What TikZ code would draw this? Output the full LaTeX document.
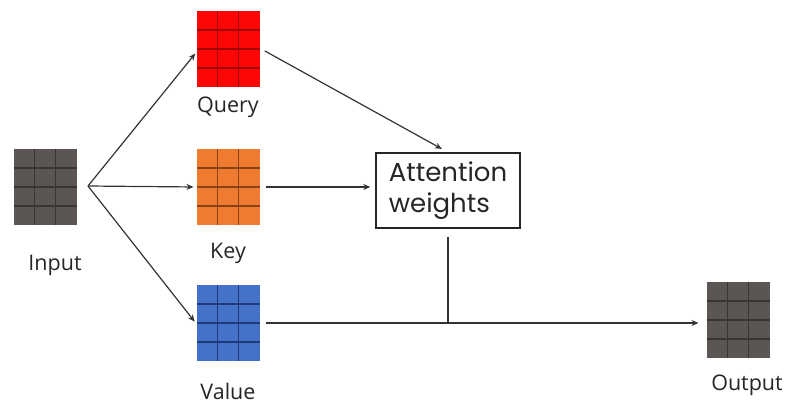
\documentclass[tikz,border=0pt]{standalone}
\usepackage{fontspec}
\setmainfont{Open Sans}
\newfontfamily\attfont{Poppins}
\usetikzlibrary{arrows.meta,calc}
\tikzset{
  x=1pt,y=-1pt,
  mat/.style={minimum width=63pt,minimum height=76pt,inner sep=0pt,outer sep=0pt,draw=none},
  gl/.style={line width=1.1pt,draw=#1},
  lbl/.style={font=\fontsize{21.5}{24}\selectfont,text=black!85,inner sep=0pt},
  conn/.style={draw=black!80,line width=1.2pt},
  arr/.style={conn,-{Stealth[length=7pt,width=6pt]}},
}
\newcommand{\matgrid}[2]{%
  \foreach \i in {1,2} \draw[gl=#2] ($(#1.north west)!\i/3!(#1.north east)$) -- ($(#1.south west)!\i/3!(#1.south east)$);
  \foreach \j in {1,2,3} \draw[gl=#2] ($(#1.north west)!\j/4!(#1.south west)$) -- ($(#1.north east)!\j/4!(#1.south east)$);
}
\definecolor{graym}{HTML}{5B5654}
\definecolor{graygl}{HTML}{3A3533}
\definecolor{redm}{HTML}{FF0606}
\definecolor{redgl}{HTML}{A00000}
\definecolor{orgm}{HTML}{EE7B30}
\definecolor{orggl}{HTML}{8A4214}
\definecolor{bluem}{HTML}{4472C8}
\definecolor{bluegl}{HTML}{1F3A78}
\begin{document}
\begin{tikzpicture}
\useasboundingbox (0,0) rectangle (789,408);
\node[mat,fill=graym] (I) at (45,187) {};
\node[mat,fill=redm] (Q) at (228,49) {};
\node[mat,fill=orgm] (K) at (228,187) {};
\node[mat,fill=bluem] (V) at (228,323) {};
\node[mat,fill=graym] (O) at (738,320) {};
\matgrid{I}{graygl}
\matgrid{Q}{redgl}
\matgrid{K}{orggl}
\matgrid{V}{bluegl}
\matgrid{O}{graygl}
\node[lbl] (Il) at (55,265) {Input};
\node[lbl] (Ql) at (228,107) {Query};
\node[lbl] (Kl) at (228,253) {Key};
\node[lbl] (Vl) at (228,391) {Value};
\node[lbl] (Ol) at (747,385) {Output};
\node[draw=black!85,line width=1.4pt,minimum width=144pt,minimum height=75pt,inner sep=0pt,
  align=left,font=\attfont\fontsize{26}{31}\selectfont,text=black!85] (A) at (448,190.5) {Attention\\weights};
\coordinate (s) at (88,186);
\coordinate (j) at (448,323);
\draw[arr,shorten >=2pt] (s) -- ([yshift=-3pt]Q.west);
\draw[arr,shorten >=3pt] (s) -- (K.west);
\draw[arr,shorten >=3pt] (s) -- ([yshift=-1pt]V.west);
\draw[arr,shorten <=6pt,shorten >=7pt] ([yshift=1pt]Q.east) -- (A.north);
\draw[arr,shorten <=6pt,shorten >=5pt] (K.east) -- (A.west |- K.east);
\draw[conn,shorten <=8pt] (A.south) -- (j);
\draw[arr,shorten <=6pt,shorten >=8pt] (V.east) -- (O.west |- V.east);
\end{tikzpicture}
\end{document}
